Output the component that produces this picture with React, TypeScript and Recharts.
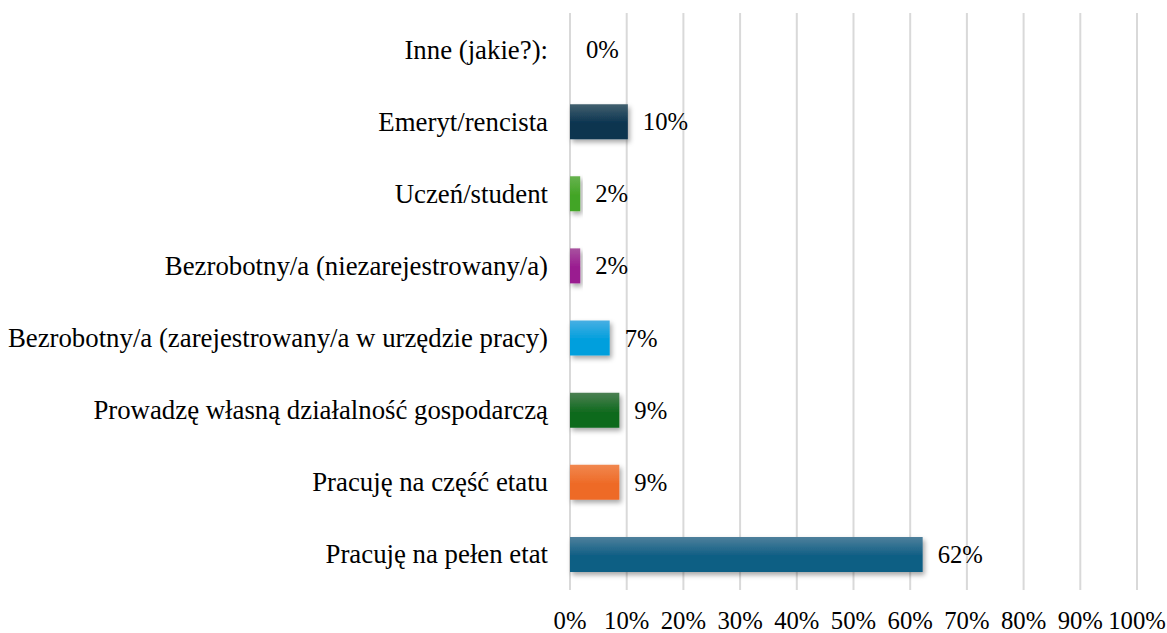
import React from "react";
import {
  BarChart,
  Bar,
  XAxis,
  YAxis,
  CartesianGrid,
  LabelList,
  Cell,
} from "recharts";

const categories = [
  "Inne (jakie?):",
  "Emeryt/rencista",
  "Uczeń/student",
  "Bezrobotny/a (niezarejestrowany/a)",
  "Bezrobotny/a (zarejestrowany/a w urzędzie pracy)",
  "Prowadzę własną działalność gospodarczą",
  "Pracuję na część etatu",
  "Pracuję na pełen etat",
];

const shares = [0, 10.2, 1.8, 1.8, 7.0, 8.7, 8.7, 62.2];

const xTicks = [0, 10, 20, 30, 40, 50, 60, 70, 80, 90, 100];

// [light top, base] per bar
const barColors = [
  ["transparent", "transparent"],
  ["#42606f", "#0c3450"],
  ["#67b24f", "#43a525"],
  ["#a8539f", "#9a1a90"],
  ["#48afe3", "#009fdd"],
  ["#4c8053", "#116b1f"],
  ["#f1874f", "#ee6a26"],
  ["#4f809c", "#0f5e84"],
];

const data = categories.map((name, i) => ({ name, value: shares[i] }));

const font = "Liberation Serif";
const numStyle = { fill: "#000", fontSize: 24.7, fontFamily: font };
const catStyle = { fill: "#000", fontSize: 26.8, fontFamily: font };

const ValueLabel = (props: any) => {
  const { x, y, width, height, value } = props;
  return (
    <text
      x={Number(x) + Number(width) + 15}
      y={Number(y) + Number(height) / 2}
      dominantBaseline="central"
      style={numStyle}
    >
      {`${Math.round(value)}%`}
    </text>
  );
};

export default function App() {
  return (
    <div
      style={{
        position: "fixed",
        left: 0,
        top: 0,
        width: 1167,
        height: 633,
        background: "#fff",
        fontFamily: font,
      }}
    >
      <BarChart
        width={1167}
        height={633}
        data={data}
        layout="vertical"
        barSize={35}
        margin={{ top: 13, right: 30, left: 0, bottom: 0 }}
      >
        <defs>
          {barColors.map(([light, base], i) => (
            <linearGradient key={i} id={`grad-${i}`} x1="0" y1="0" x2="0" y2="1">
              <stop offset="0%" stopColor={light} />
              <stop offset="55%" stopColor={base} />
              <stop offset="100%" stopColor={base} />
            </linearGradient>
          ))}
          <filter id="shadow" x="-10%" y="-30%" width="130%" height="170%">
            <feDropShadow dx="2" dy="3" stdDeviation="2.5" floodColor="#000" floodOpacity="0.35" />
          </filter>
        </defs>
        <CartesianGrid horizontal={false} stroke="#d9d9d9" strokeWidth={2} />
        <XAxis
          type="number"
          domain={[0, 100]}
          ticks={xTicks}
          tickFormatter={(v) => `${v}%`}
          axisLine={false}
          tickLine={false}
          tickMargin={15}
          height={43}
          interval={0}
          tick={{ ...numStyle, style: numStyle }}
        />
        <YAxis
          type="category"
          dataKey="name"
          width={570}
          axisLine={false}
          tickLine={false}
          tickMargin={16}
          interval={0}
          tick={{ ...catStyle, style: catStyle }}
        />
        <Bar
          dataKey="value"
          isAnimationActive={false}
          filter="url(#shadow)"
          minPointSize={1}
        >
          {data.map((_, i) => (
            <Cell key={i} fill={`url(#grad-${i})`} />
          ))}
          <LabelList dataKey="value" content={ValueLabel} />
        </Bar>
      </BarChart>
    </div>
  );
}
